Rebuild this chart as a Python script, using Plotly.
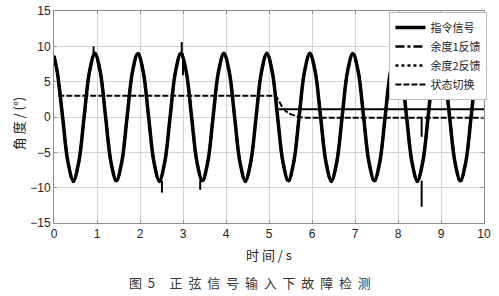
import plotly.graph_objects as go

# ---- data ----
t_sine = [0.0,
          0.075, 0.2, 0.325, 0.45, 0.575, 0.7, 0.825, 0.95,
          1.075, 1.2, 1.325, 1.45, 1.575, 1.7, 1.825, 1.95,
          2.075, 2.2, 2.325, 2.45, 2.575, 2.7, 2.825, 2.95,
          3.075, 3.2, 3.325, 3.45, 3.575, 3.7, 3.825, 3.95,
          4.075, 4.2, 4.325, 4.45, 4.575, 4.7, 4.825, 4.95,
          5.075, 5.2, 5.325, 5.45, 5.575, 5.7, 5.825, 5.95,
          6.075, 6.2, 6.325, 6.45, 6.575, 6.7, 6.825, 6.95,
          7.075, 7.2, 7.325, 7.45, 7.575, 7.7, 7.825, 7.95,
          8.075, 8.2, 8.325, 8.45, 8.575, 8.7, 8.825, 8.95,
          9.075, 9.2, 9.325, 9.45, 9.575, 9.7, 9.825, 9.95,
          10.0]
cmd_signal = [8.6,
              6.4, 0.0, -6.4, -9.0, -6.4, 0.0, 6.4, 9.0,
              6.4, 0.0, -6.4, -9.0, -6.4, 0.0, 6.4, 9.0,
              6.4, 0.0, -6.4, -9.0, -6.4, 0.0, 6.4, 9.0,
              6.4, 0.0, -6.4, -9.0, -6.4, 0.0, 6.4, 9.0,
              6.4, 0.0, -6.4, -9.0, -6.4, 0.0, 6.4, 9.0,
              6.4, 0.0, -6.4, -9.0, -6.4, 0.0, 6.4, 9.0,
              6.4, 0.0, -6.4, -9.0, -6.4, 0.0, 6.4, 9.0,
              6.4, 0.0, -6.4, -9.0, -6.4, 0.0, 6.4, 9.0,
              6.4, 0.0, -6.4, -9.0, -6.4, 0.0, 6.4, 9.0,
              6.4, 0.0, -6.4, -9.0, -6.4, 0.0, 6.4, 9.0,
              8.6]
fb1 = [8.7,
       6.5, 0.1, -6.3, -9.1, -6.5, -0.1, 6.3, 9.1,
       6.5, 0.1, -6.3, -9.1, -6.5, -0.1, 6.3, 9.1,
       6.5, 0.1, -6.3, -9.1, -6.5, -0.1, 6.3, 9.1,
       6.5, 0.1, -6.3, -9.1, -6.5, -0.1, 6.3, 9.1,
       6.5, 0.1, -6.3, -9.1, -6.5, -0.1, 6.3, 9.1,
       6.5, 0.1, -6.3, -9.1, -6.5, -0.1, 6.3, 9.1,
       6.5, 0.1, -6.3, -9.1, -6.5, -0.1, 6.3, 9.1,
       6.5, 0.1, -6.3, -9.1, -6.5, -0.1, 6.3, 9.1,
       6.5, 0.1, -6.3, -9.1, -6.5, -0.1, 6.3, 9.1,
       6.5, 0.1, -6.3, -9.1, -6.5, -0.1, 6.3, 9.1,
       8.7]
fb2 = [8.5,
       6.3, -0.1, -6.5, -9.2, -6.3, 0.1, 6.5, 8.9,
       6.3, -0.1, -6.5, -9.2, -6.3, 0.1, 6.5, 8.9,
       6.3, -0.1, -6.5, -9.2, -6.3, 0.1, 6.5, 8.9,
       6.3, -0.1, -6.5, -9.2, -6.3, 0.1, 6.5, 8.9,
       6.3, -0.1, -6.5, -9.2, -6.3, 0.1, 6.5, 8.9,
       6.3, -0.1, -6.5, -9.2, -6.3, 0.1, 6.5, 8.9,
       6.3, -0.1, -6.5, -9.2, -6.3, 0.1, 6.5, 8.9,
       6.3, -0.1, -6.5, -9.2, -6.3, 0.1, 6.5, 8.9,
       6.3, -0.1, -6.5, -9.2, -6.3, 0.1, 6.5, 8.9,
       6.3, -0.1, -6.5, -9.2, -6.3, 0.1, 6.5, 8.9,
       8.5]

# state switch signal
t_state = [0.1, 5.15, 5.2, 5.25, 5.3, 5.35, 5.4, 5.5, 5.6, 5.7, 5.8, 10.0]
state_switch = [3.0, 3.0, 2.6, 2.0, 1.5, 1.1, 0.8, 0.4, 0.15, 0.0, -0.1, -0.1]
# level after switching
t_level = [5.22, 10.0]
level_after = [1.1, 1.1]

# glitch spikes: time, start value, end value
spike_t = [0.92, 2.97, 3.0, 2.51, 3.40, 8.55, 8.55]
spike_from = [9.0, 9.0, 9.0, -9.0, -9.0, -9.0, -0.1]
spike_to = [10.0, 10.6, 5.9, -10.7, -10.3, -12.7, -2.8]

x_ticks = [0, 1, 2, 3, 4, 5, 6, 7, 8, 9, 10]
y_ticks = [-15, -10, -5, 0, 5, 10, 15]

fig = go.Figure()
fig.add_trace(go.Scatter(x=t_sine, y=cmd_signal, mode="lines", name="指令信号",
                         line=dict(color="black", width=3.5, shape="spline")))
fig.add_trace(go.Scatter(x=t_sine, y=fb1, mode="lines", name="余度1反馈",
                         line=dict(color="black", width=2.5, dash="dashdot", shape="spline")))
fig.add_trace(go.Scatter(x=t_sine, y=fb2, mode="lines", name="余度2反馈",
                         line=dict(color="black", width=2.5, dash="dot", shape="spline")))
fig.add_trace(go.Scatter(x=t_state, y=state_switch, mode="lines", name="状态切换",
                         line=dict(color="black", width=2, dash="6px,2px")))
fig.add_trace(go.Scatter(x=t_level, y=level_after, mode="lines", showlegend=False,
                         line=dict(color="black", width=2)))
sx, sy = [], []
for t, a, b in zip(spike_t, spike_from, spike_to):
    sx += [t, t, None]
    sy += [a, b, None]
fig.add_trace(go.Scatter(x=sx, y=sy, mode="lines", showlegend=False,
                         line=dict(color="black", width=2)))

axis_common = dict(showgrid=True, gridcolor="#d4d4d4", gridwidth=1,
                   showline=True, linecolor="#8c8c8c", linewidth=1, mirror="ticks",
                   ticks="inside", ticklen=3, tickcolor="#8c8c8c",
                   zeroline=False, automargin=False,
                   tickfont=dict(family="Liberation Sans, Arial", size=12, color="#222"))

NB = "\u00a0"
caption = "图" + NB * 2 + "5" + NB * 5 + (NB * 2).join("正弦信号输入下故障检测")
ytitle = "角" + NB + "度" + NB + "/" + NB + "(°)"

fig.update_layout(
    width=499, height=296,
    margin=dict(l=54, r=15, t=11, b=73),
    paper_bgcolor="white", plot_bgcolor="white",
    xaxis=dict(range=[0, 10], tickvals=x_ticks, ticklabelstandoff=0,
               title=dict(text="时" + NB + "间" + NB + "/" + NB + "s", standoff=10,
                          font=dict(family="Noto Sans CJK SC", size=13, color="#222")),
               **axis_common),
    yaxis=dict(range=[-15, 15], tickvals=y_ticks, ticklabelstandoff=0,
               **axis_common),
    legend=dict(x=1.008, y=0.995, xanchor="right", yanchor="top",
                bgcolor="white", bordercolor="#bbbbbb", borderwidth=1,
                font=dict(family="Noto Sans CJK SC", size=11, color="#222"),
                tracegroupgap=0, itemwidth=30),
    showlegend=True,
    annotations=[
        dict(text=caption, xref="paper", yref="paper",
             x=0.456, y=-0.28, xanchor="center", yanchor="middle", showarrow=False,
             font=dict(family="Noto Sans CJK SC", size=13, color="#333")),
        dict(text=ytitle, xref="paper", yref="paper", textangle=-90,
             x=-0.084, y=0.47, xanchor="center", yanchor="middle", showarrow=False,
             font=dict(family="Noto Sans CJK SC", size=13, color="#222")),
    ],
)

fig.write_html("out.html")
